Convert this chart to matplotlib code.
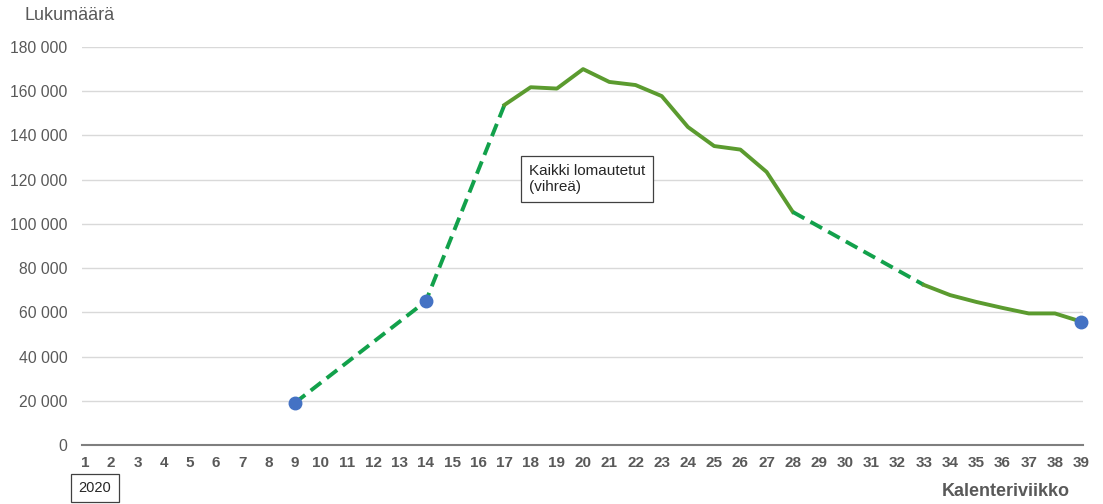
import matplotlib
matplotlib.use("Agg")
import matplotlib.pyplot as plt
from matplotlib.ticker import FuncFormatter

plt.rcParams['font.family'] = ['Liberation Sans', 'DejaVu Sans']

weeks = [9, 14, 17, 18, 19, 20, 21, 22, 23, 24, 25, 26, 27, 28, 33, 34, 35, 36, 37, 38, 39]
values = [19000, 65000, 153800, 161800, 161200, 170000, 164200, 162800, 157800, 143800,
          135200, 133600, 123500, 105400, 72400, 67800, 64700, 62000, 59500, 59500, 55800]
# segments: (start week, end week, dashed?)
segments = [(9, 17, True), (17, 28, False), (28, 33, True), (33, 39, False)]
marker_weeks = [9, 14, 39]
x_ticks = list(range(1, 40))
y_ticks = list(range(0, 180001, 20000))

W, H = 1103, 504
fig = plt.figure(figsize=(W / 100, H / 100), dpi=100)
ax = fig.add_axes([82 / W, (H - 445) / H, (1083 - 82) / W, (445 - 47) / H])
ax.set_xlim(0.885, 39.07)
ax.set_ylim(0, 180000)

for s, e, dashed in segments:
    xs = [w for w in weeks if s <= w <= e]
    ys = [values[weeks.index(w)] for w in xs]
    if dashed:
        ax.plot(xs, ys, color='#12a14b', lw=2.8, linestyle=(0, (3.4, 1.8)), solid_capstyle='butt',
                dash_capstyle='butt', zorder=3, clip_on=False)
    else:
        ax.plot(xs, ys, color='#5b9b2f', lw=2.8, solid_joinstyle='round', zorder=3, clip_on=False)

mx = marker_weeks
my = [values[weeks.index(w)] for w in mx]
ax.plot(mx, my, 'o', color='#4472c4', ms=9, zorder=4, clip_on=False)

ax.set_yticks(y_ticks)
ax.yaxis.set_major_formatter(FuncFormatter(lambda v, p: f"{int(v):,}".replace(",", " ")))
ax.set_xticks(x_ticks)
ax.set_xticklabels([str(x) for x in x_ticks])
ax.grid(axis='y', color='#d9d9d9', lw=1)
ax.set_axisbelow(True)
for sp in ['top', 'right', 'left']:
    ax.spines[sp].set_visible(False)
ax.spines['bottom'].set_color('#7f7f7f')
ax.spines['bottom'].set_linewidth(1.5)
ax.tick_params(axis='y', length=0, pad=10.5, labelsize=11.3, labelcolor='#595959')
ax.tick_params(axis='x', length=0, pad=8, labelsize=11, labelcolor='#595959')
for lbl in ax.get_xticklabels():
    lbl.set_fontweight('bold')

fig.text(25 / W, 1 - 15 / H, 'Lukumäärä', fontsize=13, color='#595959', va='center', ha='left')
fig.text(1070 / W, 1 - 492 / H, 'Kalenteriviikko', fontsize=13, color='#595959',
         fontweight='bold', va='center', ha='right')
fig.text(95 / W, 1 - 488 / H, '2020', fontsize=10.5, color='#262626', va='center', ha='center',
         bbox=dict(boxstyle='square,pad=0.5', fc='white', ec='#404040', lw=0.9))
fig.text(529 / W, 1 - 179 / H, 'Kaikki lomautetut\n(vihreä)', fontsize=11, color='#262626',
         va='center', ha='left', linespacing=1.25,
         bbox=dict(boxstyle='square,pad=0.5', fc='white', ec='#404040', lw=0.9))

fig.savefig('out.png', dpi=100)
